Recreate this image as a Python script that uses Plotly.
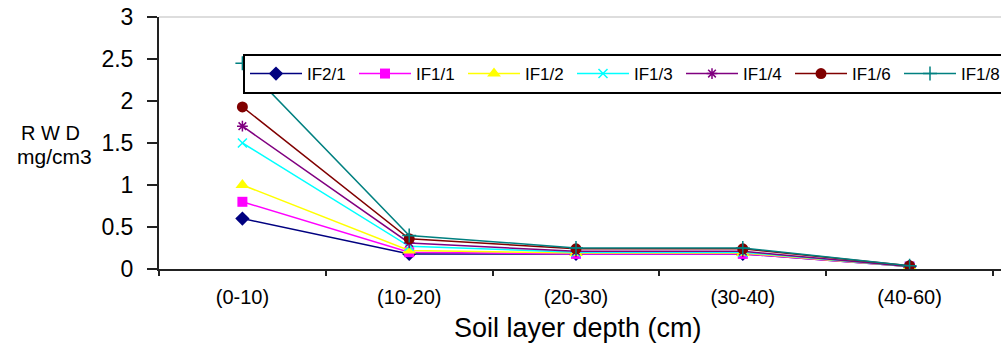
import plotly.graph_objects as go

categories = ["(0-10)", "(10-20)", "(20-30)", "(30-40)", "(40-60)"]
series_names = ["IF2/1", "IF1/1", "IF1/2", "IF1/3", "IF1/4", "IF1/6", "IF1/8"]
if2_1 = [0.60, 0.18, 0.18, 0.18, 0.03]
if1_1 = [0.80, 0.20, 0.18, 0.18, 0.03]
if1_2 = [1.00, 0.22, 0.19, 0.19, 0.03]
if1_3 = [1.50, 0.27, 0.20, 0.20, 0.03]
if1_4 = [1.70, 0.31, 0.21, 0.21, 0.03]
if1_6 = [1.93, 0.36, 0.24, 0.24, 0.04]
if1_8 = [2.45, 0.40, 0.25, 0.25, 0.04]
y_ticks = [0, 0.5, 1, 1.5, 2, 2.5, 3]
y_tick_labels = ["0", "0.5", "1", "1.5", "2", "2.5", "3"]

values = [if2_1, if1_1, if1_2, if1_3, if1_4, if1_6, if1_8]
colors = ["#000080", "#FF00FF", "#FFFF00", "#00FFFF", "#800080", "#800000", "#008080"]
symbols = ["diamond", "square", "triangle-up", "x-thin", "asterisk", "circle", "cross-thin"]
sizes = [11, 10, 12, 9, 9, 11, 10]

FONT = "Liberation Sans, Arial, sans-serif"
L, T, B, W, H = 159, 17, 75, 1001, 344
PW, PH = W - L, H - T - B

fig = go.Figure()
for name, vals, c, s, sz in zip(series_names, values, colors, symbols, sizes):
    fig.add_trace(go.Scatter(
        x=categories, y=vals, name=name, mode="lines+markers",
        line=dict(color=c, width=1.5),
        marker=dict(symbol=s, size=sz, color=c,
                    line=dict(color=c, width=1.5 if ("thin" in s or s == "asterisk") else 0)),
    ))

fig.update_layout(
    width=W, height=H,
    margin=dict(l=L, r=0, t=T, b=B, autoexpand=False),
    paper_bgcolor="white", plot_bgcolor="white",
    font=dict(family=FONT, color="black"),
    showlegend=True,
    legend=dict(
        orientation="h", xref="container", x=243 / W, xanchor="left",
        yref="container", y=1 - 54 / H, yanchor="top",
        bgcolor="white", bordercolor="black", borderwidth=2,
        font=dict(size=17), itemwidth=52, entrywidth=42, entrywidthmode="pixels",
        tracegroupgap=0,
    ),
    xaxis=dict(
        type="category", range=[-0.5, 4.548],
        showline=True, linecolor="#222", linewidth=2,
        ticks="outside", tickson="boundaries", ticklen=5, tickwidth=2, tickcolor="#222",
        tickfont=dict(size=20), ticklabelstandoff=9,
        showgrid=False, zeroline=False,
    ),
    yaxis=dict(
        range=[0, 3], tickvals=y_ticks, ticktext=y_tick_labels,
        showline=True, linecolor="#222", linewidth=2,
        ticks="outside", ticklen=10, tickwidth=2, tickcolor="#222",
        tickfont=dict(size=23), ticklabelstandoff=9,
        showgrid=False, zeroline=False,
    ),
    annotations=[
        dict(text="R W D", xref="paper", yref="paper",
             x=(51 - L) / PW, y=1 - (133 - T) / PH, xanchor="center", yanchor="middle",
             showarrow=False, font=dict(size=20)),
        dict(text="mg/cm3", xref="paper", yref="paper",
             x=(54 - L) / PW, y=1 - (156 - T) / PH, xanchor="center", yanchor="middle",
             showarrow=False, font=dict(size=21)),
        dict(text="Soil layer depth (cm)", xref="paper", yref="paper",
             x=(578 - L) / PW, y=1 - (328 - T) / PH, xanchor="center", yanchor="middle",
             showarrow=False, font=dict(size=27)),
    ],
    shapes=[dict(type="line", xref="paper", yref="paper", x0=0, x1=1, y0=1, y1=1,
                 line=dict(color="#BBBBBB", width=1))],
)

fig.write_html("out.html")
